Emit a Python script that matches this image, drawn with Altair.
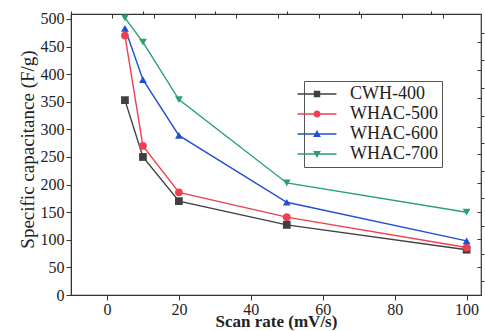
import altair as alt
import pandas as pd

series = ["CWH-400", "WHAC-500", "WHAC-600", "WHAC-700"]
scan_rate = [5, 10, 20, 50, 100]
cwh400 = [353, 250, 170, 127, 82]
whac500 = [470, 270, 186, 141, 86]
whac600 = [483, 390, 289, 168, 98]
whac700 = [502, 458, 354, 203, 150]
colors = ["#404040", "#f0404f", "#2050d0", "#28a070"]
shapes = ["square", "circle", "triangle-up", "triangle-down"]
legend_shapes = [
    "M-6,-0.2H6V0.2H-6Z M-1,-1H1V1H-1Z",
    "M-6,-0.2H6V0.2H-6Z M1.1,0A1.1,1.1 0 1,1 -1.1,0A1.1,1.1 0 1,1 1.1,0Z",
    "M-6,-0.2H6V0.2H-6Z M0,-1.2L1.2,0.9L-1.2,0.9Z",
    "M-6,-0.2H6V0.2H-6Z M0,1.2L-1.2,-0.9L1.2,-0.9Z",
]

x_major = [0, 20, 40, 60, 80, 100]
x_minor = [-10, 10, 30, 50, 70, 90]
y_major = list(range(0, 501, 50))
y_minor = list(range(25, 501, 50))
top_ticks = [1.4, 13, 24.5, 36, 47.5, 59, 70.5, 82, 93.5]
right_ticks = [51, 101, 151, 203, 255, 305, 357, 407, 458]

rows = []
for name, vals in zip(series, [cwh400, whac500, whac600, whac700]):
    for xv, yv in zip(scan_rate, vals):
        rows.append({"series": name, "x": xv, "y": yv})
df = pd.DataFrame(rows)

FONT = "Liberation Serif, Times New Roman, DejaVu Serif, serif"
xs = alt.Scale(domain=[-10, 104], nice=False, zero=False)
ys = alt.Scale(domain=[0, 509], nice=False, zero=False)
cs = alt.Scale(domain=series, range=colors)
ss = alt.Scale(domain=series, range=shapes)
ls = alt.Scale(domain=series, range=legend_shapes)

LX, LY = 233, 67

base = alt.Chart(df)

lines = base.mark_line(strokeWidth=1.4).encode(
    x=alt.X("x:Q", scale=xs, axis=alt.Axis(
        values=x_major, title="Scan rate (mV/s)", tickSize=5, labelPadding=1,
        labelFont=FONT, labelFontSize=16, labelColor="#222",
        titleFont=FONT, titleFontSize=17, titleFontWeight="bold", titleColor="#222",
        titlePadding=-4, grid=False, domainColor="#333", tickColor="#333")),
    y=alt.Y("y:Q", scale=ys, axis=alt.Axis(
        values=y_major, title="Specific capacitance (F/g)", tickSize=5, labelPadding=2,
        labelFont=FONT, labelFontSize=16, labelColor="#222",
        titleFont=FONT, titleFontSize=19, titleFontWeight="normal", titleColor="#222",
        titlePadding=3, titleY=135, grid=False, domainColor="#333", tickColor="#333")),
    color=alt.Color("series:N", scale=cs, legend=None),
)

points = base.mark_point(filled=True, size=60, opacity=1).encode(
    x=alt.X("x:Q", scale=xs, axis=None),
    y=alt.Y("y:Q", scale=ys, axis=None),
    color=alt.Color("series:N", scale=cs, legend=None),
    shape=alt.Shape("series:N", scale=ss, legend=None),
)

leg = dict(
    title=None, orient="none", legendX=LX, legendY=LY, symbolSize=42,
    symbolOpacity=1, symbolStrokeWidth=0,
    labelFont=FONT, labelFontSize=18, labelColor="#222", labelOffset=24,
    padding=4, rowPadding=2, strokeColor="#555",
)

legend_layer = base.mark_point(filled=True, size=42, opacity=0).encode(
    x=alt.X("x:Q", scale=xs, axis=alt.Axis(
        values=x_minor, labels=False, domain=False, tickSize=3, title=None,
        grid=False, tickColor="#333")),
    y=alt.Y("y:Q", scale=ys, axis=alt.Axis(
        values=y_minor, labels=False, domain=False, tickSize=3, title=None,
        grid=False, tickColor="#333")),
    color=alt.Color("series:N", scale=cs, legend=alt.Legend(**leg)),
    shape=alt.Shape("series:N", scale=ls, legend=alt.Legend(**leg)),
)

topright = base.mark_point(opacity=0).encode(
    x=alt.X("x:Q", scale=xs, axis=alt.Axis(
        orient="top", values=top_ticks, labels=False, domain=False, tickSize=4,
        offset=-4, title=None, grid=False, tickColor="#333")),
    y=alt.Y("y:Q", scale=ys, axis=alt.Axis(
        orient="right", values=right_ticks, labels=False, domain=False, tickSize=4,
        offset=-4, title=None, grid=False, tickColor="#333")),
)

chart = alt.layer(lines, points, legend_layer, topright).resolve_axis(
    x="independent", y="independent"
).resolve_scale(shape="independent").resolve_legend(
    color="independent", shape="independent"
).properties(
    width=410, height=281,
    autosize=alt.AutoSizeParams(type="none"),
    padding={"left": 71, "top": 14, "right": 4, "bottom": 36},
    background="white",
).configure_view(stroke="#333", strokeWidth=1.2)

chart.save("out.html", embed_options={"renderer": "svg", "actions": False})
